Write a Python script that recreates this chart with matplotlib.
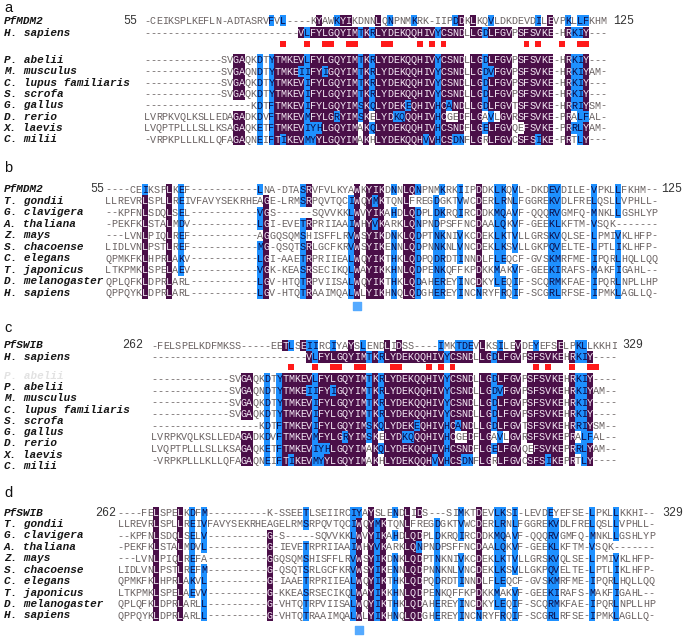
import matplotlib
matplotlib.use("Agg")
import matplotlib.pyplot as plt
from matplotlib.patches import Rectangle

# ---------------- data ----------------
vert_names = ["H. sapiens", "P. abelii", "M. musculus", "C. lupus familiaris",
              "S. scrofa", "G. gallus", "D. rerio", "X. laevis", "C. milii"]
plant_names = ["T. gondii", "G. clavigera", "A. thaliana", "Z. mays", "S. chacoense",
               "C. elegans", "T. japonicus", "D. melanogaster", "H. sapiens"]

a_names = ["PfMDM2"] + vert_names
a_seqs = [
    "-CEIKSPLKEFLN-ADTASRVFVL----KYAWKYIKDNNLQNPNMKRK-IIPDDKLKQVLDKDEVDILEVPKLLFKHM",
    "--------------------------VLFYLGQYIMTKRLYDEKQQHIVYCSNDLLGDLFGVPSFSVKE-HRKIY---",
    "-------------SVGAQKDTYTMKEVLFYLGQYIMTKRLYDEKQQHIVYCSNDLLGDLFGVPSFSVKE-HRKIY---",
    "-------------SVGAQNDTYTMKEIIFYIGQYIMTKRLYDEKQQHIVYCSNDLLGDVFGVPSFSVKE-HRKIYAM-",
    "-------------SVGAQKDTYTMKEVIFYLGQYIMTKRLYDEKQQHIVYCSNDLLGDLFGVPSFSVKE-HRKIY---",
    "-------------SVGAQKDTYTMKEVIFYLGQYIMTKRLYDEKQQHIVYCSNDLLGDLFGVPSFSVKE-HRKIY---",
    "------------------KDTFTMKEVIFYLGQYIMSKQLYDEKEQHIVHCANDLLGDLFGVTSFSVKE-HRRIYSM-",
    "LVRPKVQLKSLLEDAGADKDVFTMKEVMFYLGRYIMSKELYDKQQQHIVHCGEDFLGAVLGVRSFSVKE-PRALFAL-",
    "LVQPTPLLLSLLKSAGAQKETFTMKEVIYHLGQYIMAKQLYDEKQQHIVHCSNDFLGELFGVQEFSVKE-PRRLYAM-",
    "-VRPKPLLLKLLQFAGAQNEIFTIKEVMYYLGQYIMAKHLYDEKQQHVVHCSDNFLGRLFGVCSFSIKE-PRTLY---",
]
a_range = ("55", "125")

b_names = ["PfMDM2"] + plant_names
b_seqs = [
    "----CEIKSPLKEF-----------LNA-DTASRVFVLKYAWKYIKDNNLQNPNMKRKIIPDDKLKQVL-DKDEVDILE-VPKLLFKHM--",
    "LLREVRLSPLLREIVFAVYSEKRHEAGE-LRMSRPQVTQCIWQYMKTQNLFREGDGKTVWCDERLRNLFGGREKVDLFRELQSLLVPHLL-",
    "--KPFNLSDQLSEL-----------VGS------SQVVKKLWVYIKAHDLQDPLDKRQIRCDDKMQAVF-QQQRVGMFQ-MNKLLGSHLYP",
    "-PEKFKLSTALMDV-----------LGI-EVETRPRIIAAIWHYVKARKLQNPNDPSFFNCDAALQKVF-GEEKLKFTM-VSQK-------",
    "---LVNLPIQLREF-----------AGGQSQMSHISFFLRVWSYIKDNKLQDPTNKNIVKCDEKLKTVLLGRSKVQLSE-LPMIVKLHFP-",
    "LIDLVNLPSTLREF-----------MG-QSQTSRLGCFKRVWSYIKENNLQDPNNKNLVNCDEKLKSVLLGKPQVELTE-LPTLIKLHFP-",
    "QPMKFKLHPRLAKV-----------LGI-AAETRPRIIEALWQYIKTHKLQDPQDRDTINNDLFLEQCF-GVSKMRFME-IPQRLHQLLQQ",
    "LTKPMKLSPELAEV-----------VGK-KEASRSECIKQLWAYIKKHNLQDPENKQFFKPDKKMAKVF-GEEKIRAFS-MAKFIGAHL--",
    "QPLQFKLDPRLARL-----------LGV-HTQTRPVIISALWQYIKTHKLQDAHEREYINCDKYLEQIF-SCQRMKFAE-IPQRLNPLLHP",
    "QPPQYKLDPRLARL-----------LGV-HTQTRAAIMQALWLYIKHNQLQDGHEREYINCNRYFRQIF-SCGRLRFSE-IPMKLAGLLQ-",
]
b_range = ("55", "125")

c_names = ["PfSWIB"] + vert_names
c_seqs = [
    "-FELSPELKDFMKSS-----EETLSEIIRCIYAYSLENDLIDSS----IMKTDEVLKSILEVDEYEFSELPKLLKKHI",
    "--------------------------VLFYLGQYIMTKRLYDEKQQHIVYCSNDLLGDLFGVPSFSVKEHRKIY----",
    "-------------SVGAQKDTYTMKEVLFYLGQYIMTKRLYDEKQQHIVYCSNDLLGDLFGVPSFSVKEHRKIY----",
    "-------------SVGAQNDTYTMKEIIFYIGQYIMTKRLYDEKQQHIVYCSNDLLGDVFGVPSFSVKEHRKIYAM--",
    "-------------SVGAQKDTYTMKEVIFYLGQYIMTKRLYDEKQQHIVYCSNDLLGDLFGVPSFSVKEHRKIY----",
    "-------------SVGAQKDTYTMKEVIFYLGQYIMTKRLYDEKQQHIVYCSNDLLGDLFGVPSFSVKEHRKIY----",
    "------------------KDTFTMKEVIFYLGQYIMSKQLYDEKEQHIVHCANDLLGDLFGVTSFSVKEHRRIYSM--",
    "LVRPKVQLKSLLEDAGADKDVFTMKEVMFYLGRYIMSKELYDKQQQHIVHCGEDFLGAVLGVRSFSVKEPRALFAL--",
    "LVQPTPLLLSLLKSAGAQKETFTMKEVIYHLGQYIMAKQLYDEKQQHIVHCSNDFLGELFGVQEFSVKEPRRLYAM--",
    "-VRPKPLLLKLLQFAGAQNEIFTIKEVMYYLGQYIMAKHLYDEKQQHVVHCSDNFLGRLFGVCSFSIKEPRTLY----",
]
c_range = ("262", "329")

d_names = ["PfSWIB"] + plant_names
d_seqs = [
    "----FELSPELKDFM----------K-SSEETLSEIIRCIYAYSLENDLIDS---SIMKTDEVLKSI-LEVDEYEFSE-LPKLLKKHI--",
    "LLREVRLSPLLREIVFAVYSEKRHEAGELRMSRPQVTQCIWQYMKTQNLFREGDGKTVWCDERLRNLFGGREKVDLFRELQSLLVPHLL-",
    "--KPFNLSDQLSELV----------G-S-----SQVVKKLWVYIKAHDLQDPLDKRQIRCDDKMQAVF-QQQRVGMFQ-MNKLLGSHLYP",
    "-PEKFKLSTALMDVL----------G-IEVETRPRIIAAIWHYVKARKLQNPNDPSFFNCDAALQKVF-GEEKLKFTM-VSQK-------",
    "---LVNLPIQLREFA----------GGQSQMSHISFFLRVWSYIKDNKLQDPTNKNIVKCDEKLKTVLLGRSKVQLSE-LPMIVKLHFP-",
    "LIDLVNLPSTLREFM----------G-QSQTSRLGCFKRVWSYIKENNLQDPNNKNLVNCDEKLKSVLLGKPQVELTE-LPTLIKLHFP-",
    "QPMKFKLHPRLAKVL----------G-IAAETRPRIIEALWQYIKTHKLQDPQDRDTINNDLFLEQCF-GVSKMRFME-IPQRLHQLLQQ",
    "LTKPMKLSPELAEVV----------G-KKEASRSECIKQLWAYIKKHNLQDPENKQFFKPDKKMAKVF-GEEKIRAFS-MAKFIGAHL--",
    "QPLQFKLDPRLARLL----------G-VHTQTRPVIISALWQYIKTHKLQDAHEREYINCDKYLEQIF-SCQRMKFAE-IPQRLNPLLHP",
    "QPPQYKLDPRLARLL----------G-VHTQTRAAIMQALWLYIKHNQLQDGHEREYINCNRYFRQIF-SCGRLRFSE-IPMKLAGLLQ-",
]
d_range = ("262", "329")

# binding-site columns (1-based) marked in red in panels a and c
site_columns = [24, 28, 31, 32, 35, 36, 41, 42, 47, 49, 51, 65, 67, 71, 74, 75]
# conserved W column marked below panels b and d
b_dot_column = 42
d_dot_column = 41

# ---------------- style ----------------
PURPLE = "#4A0F48"
BLUE = "#1E90FF"
RED = "#FF1A1A"
TXT_PLAIN = "#6A6262"
TXT_PURPLE = "#F4E8F4"
TXT_BLUE = "#0C0C46"
SEQ_FONT = "Liberation Mono"

SIM = {frozenset(p) for p in ["AS", "RK", "RQ", "ND", "NH", "NS", "DE", "QE", "QK",
                              "EK", "HY", "IL", "IM", "IV", "LM", "LV", "MV", "FW",
                              "FY", "ST", "WY"]}


def similar(a, b):
    return a == b or frozenset((a, b)) in SIM


def shade(seqs, ref_rows, thr=0.75):
    """Shade residues by column conservation, computed over ref_rows."""
    n = len(ref_rows)
    L = max(len(s) for s in seqs)
    grid = [[None] * L for _ in seqs]
    for j in range(L):
        col = [seqs[k][j] if j < len(seqs[k]) else "-" for k in ref_rows]
        best = None
        for c in sorted(set(col) - {"-"}):
            nid = col.count(c)
            nsim = sum(similar(c, r) for r in col if r != "-")
            key = (nid, nsim)
            if best is None or key > best[0]:
                best = (key, c)
        if best is None:
            continue
        (nid, nsim), c = best
        for i, s in enumerate(seqs):
            r = s[j] if j < len(s) else "-"
            if r == "-":
                continue
            if nid >= thr * n and r == c:
                grid[i][j] = "p"
            elif nsim >= thr * n and similar(c, r):
                grid[i][j] = "b"
    return grid


fig = plt.figure(figsize=(6.85, 6.36), dpi=100)
ax = fig.add_axes([0, 0, 1, 1])
ax.set_xlim(0, 685)
ax.set_ylim(636, 0)
ax.axis("off")


def draw_panel(letter, letter_y, names, seqs, rng, x0, cw, rows_y, label_y,
               rh, num_right, end_left, ref_rows, fs=7.3):
    ax.text(4, letter_y, letter, fontsize=10.5, family="Liberation Sans",
            va="center", ha="left", color="#111111")
    grid = shade(seqs, ref_rows)
    for i, (name, seq) in enumerate(zip(names, seqs)):
        y = rows_y[i]
        ax.text(4, label_y[i], name, fontsize=7.9, family=SEQ_FONT,
                fontweight="bold", fontstyle="italic", va="center", ha="left",
                color="#151515")
        for j, ch in enumerate(seq):
            xc = x0 + j * cw
            st = grid[i][j]
            if st == "p":
                ax.add_patch(Rectangle((xc - cw / 2, y - rh / 2), cw, rh,
                                       facecolor=PURPLE, edgecolor="none", zorder=1))
                tc = TXT_PURPLE
            elif st == "b":
                ax.add_patch(Rectangle((xc - cw / 2, y - rh / 2), cw, rh,
                                       facecolor=BLUE, edgecolor="none", zorder=1))
                tc = TXT_BLUE
            else:
                tc = TXT_PLAIN
            ax.text(xc, y + 0.3, ch, fontsize=fs, family=SEQ_FONT, ha="center",
                    va="center", color=tc, zorder=3)
    ax.text(num_right, rows_y[0], rng[0], fontsize=8.4, family=SEQ_FONT,
            ha="right", va="center", color="#333333")
    ax.text(end_left, rows_y[0], rng[1], fontsize=8.4, family=SEQ_FONT,
            ha="left", va="center", color="#333333")


def draw_sites(x0, cw, y):
    for col in site_columns:
        xc = x0 + (col - 1) * cw
        ax.add_patch(Rectangle((xc - cw * 0.5, y - 3), cw, 6,
                               facecolor=RED, edgecolor="none", zorder=2))


# panel a (conservation from the nine vertebrate sequences)
a_rows = [20.7, 32.5, 60.0, 71.3, 82.6, 94.0, 105.3, 116.6, 128.0, 139.3]
draw_panel("a", 8, a_names, a_seqs, a_range, 147.0, 5.93, a_rows, a_rows,
           11.3, 137, 613, list(range(1, 10)))
draw_sites(147.0, 5.93, 44.0)

# panel b
b_rows = [189.3 + 11.5 * i for i in range(10)]
draw_panel("b", 168, b_names, b_seqs, b_range, 108.3, 6.07, b_rows, b_rows,
           11.5, 104, 661, list(range(10)))
ax.scatter([108.3 + (b_dot_column - 1) * 6.07], [306], marker="s", s=26,
           color="#55AAFF", zorder=4)

# panel c (labels slightly offset from sequence rows as in the original)
c_rows = [345.5, 357.0] + [379.0 + 11.6 * i for i in range(8)]
c_lab = [345.5, 357.0] + [387.0 + 11.3 * i for i in range(8)]
draw_panel("c", 328, c_names, c_seqs, c_range, 154.0, 5.97, c_rows, c_lab,
           11.6, 143, 622, list(range(1, 10)))
draw_sites(154.0, 5.97, 367.0)
ax.text(4, 376, "P. abelii", fontsize=7.9, family=SEQ_FONT, fontweight="bold",
        fontstyle="italic", va="center", ha="left", color="#E2E2E2")

# panel d
d_rows = [512.7 + 11.4 * i for i in range(10)]
draw_panel("d", 493, d_names, d_seqs, d_range, 120.5, 5.97, d_rows, d_rows,
           11.4, 116, 662, list(range(10)))
ax.scatter([120.5 + (d_dot_column - 1) * 5.97], [630], marker="s", s=26,
           color="#55AAFF", zorder=4)

fig.savefig("out.png", dpi=100, facecolor="white")
